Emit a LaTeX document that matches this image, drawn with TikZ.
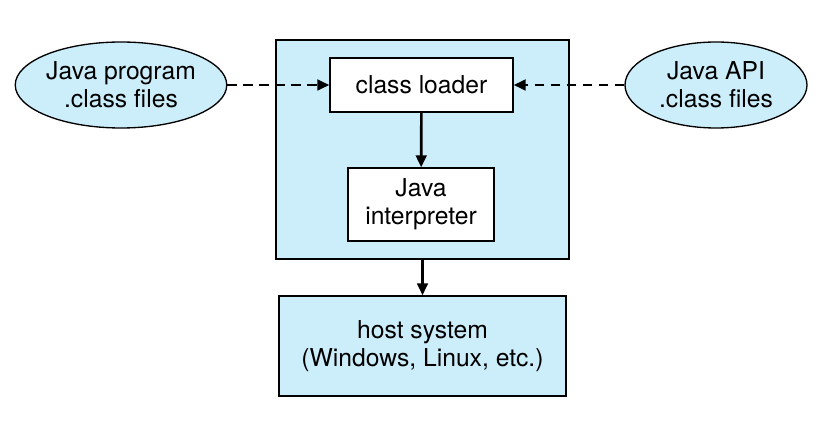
\documentclass[tikz,border=0pt]{standalone}
\usepackage{fontspec}
\setmainfont{TeX Gyre Heros}
\usetikzlibrary{shapes.geometric,arrows.meta}
\definecolor{jvmblue}{HTML}{CCEDFA}
\tikzset{
  box/.style={draw,line width=1pt,fill=white,align=center,inner sep=0pt},
  oval/.style={draw,line width=1pt,ellipse,fill=jvmblue,align=center,inner sep=0pt},
  flow/.style={-{Triangle[length=9pt,width=8pt]},line width=2pt},
  load/.style={flow,dash pattern=on 7pt off 5pt}
}
\begin{document}
\begin{tikzpicture}[x=0.75pt,y=-0.75pt,font=\fontsize{18.5}{21}\selectfont]
  \useasboundingbox (0,0) rectangle (836,434);

  % virtual machine
  \node [box,fill=jvmblue,minimum width=293*0.75pt,minimum height=219*0.75pt] (jvm) at (422.5,149.5) {};
  \node [box,minimum width=183*0.75pt,minimum height=54*0.75pt] (loader) at (421.5,85) {class loader};
  \node [box,minimum width=146*0.75pt,minimum height=73*0.75pt] (interp) at (421,204.5) {Java\\interpreter};

  % host
  \node [box,fill=jvmblue,minimum width=287*0.75pt,minimum height=100*0.75pt] (host) at (422.5,346) {host system\\(Windows, Linux, etc.)};

  % class files
  \node [oval,minimum width=191*0.75pt,minimum height=86*0.75pt] (prog) at (121,85) {Java program\\.class files};
  \node [oval,minimum width=182*0.75pt,minimum height=86*0.75pt] (api) at (716,85) {Java API\\.class files};

  \draw [load] (prog) -- (loader);
  \draw [load] (api) -- (loader);
  \draw [flow] (loader) -- (interp);
  \draw [flow] (jvm.south) -- (host.north);
\end{tikzpicture}
\end{document}
